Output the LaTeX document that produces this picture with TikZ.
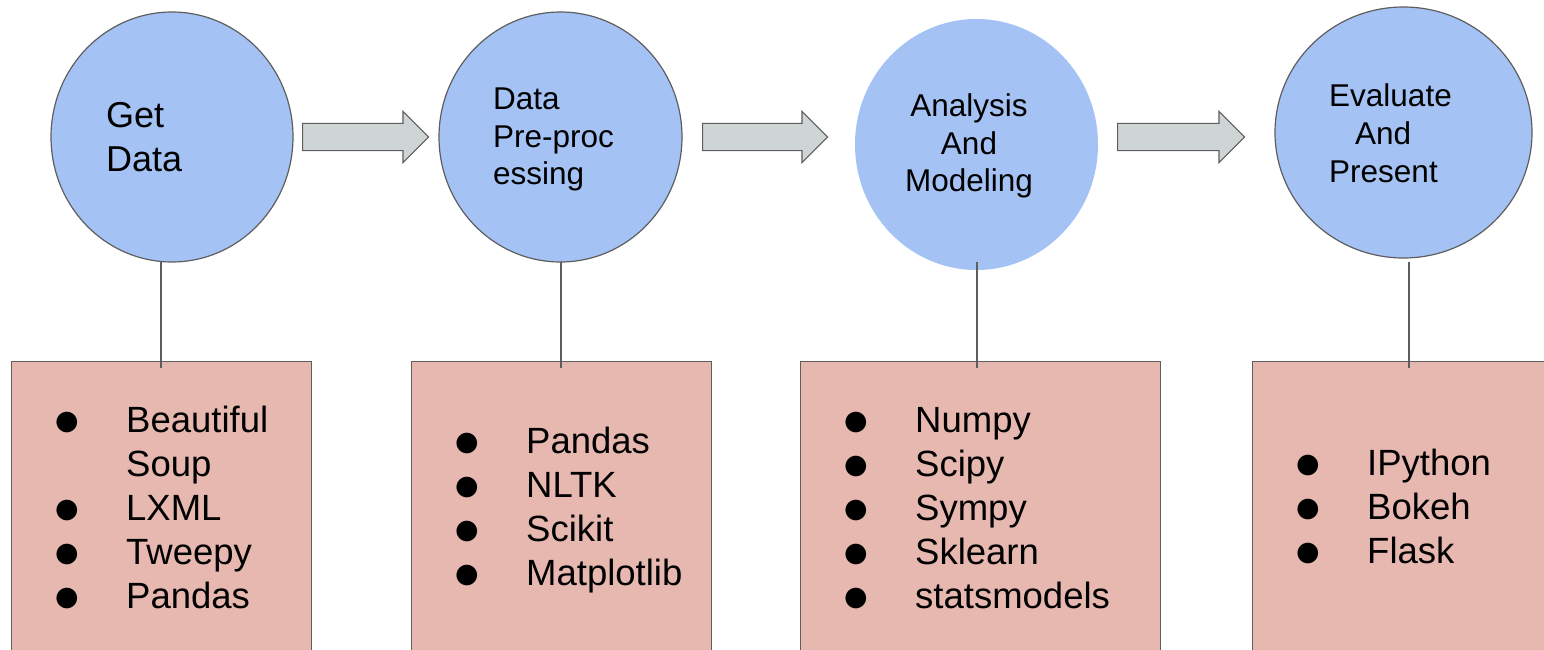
\documentclass[tikz,border=0pt]{standalone}
\usepackage{fontspec}
\setmainfont{Liberation Sans}
\newfontfamily\dotfont{DejaVu Sans}
\usetikzlibrary{shapes.geometric,shapes.arrows}

\definecolor{stageblue}{HTML}{A4C2F4}
\definecolor{toolpink}{HTML}{E6B8AF}
\definecolor{flowgray}{HTML}{CFD5D4}
\definecolor{edgegray}{HTML}{5E5E5E}

% multi-line label, baseline on its first line
\newcommand\stagelines[1]{\begin{tabular}[t]{@{}l@{}}#1\end{tabular}}
\newcommand\stagecentered[1]{\begin{tabular}[t]{@{}c@{}}#1\end{tabular}}
% bullet list inside a tool box
\newcommand\toolitem{\makebox[71pt][l]{\raisebox{3pt}{\dotfont\fontsize{27}{27}\selectfont ●}}}
\newcommand\toollist[1]{\begin{tabular}[t]{@{}l@{}l@{}}#1\end{tabular}}

\begin{document}
\begin{tikzpicture}[x=1pt,y=-1pt,
  stage/.style={ellipse, fill=stageblue, draw=edgegray, line width=1.2pt, inner sep=0pt},
  toolbox/.style={rectangle, fill=toolpink, draw=edgegray, line width=1.2pt,
    anchor=north west, inner sep=0pt, minimum height=340pt},
  flow/.style={single arrow, fill=flowgray, draw=edgegray, line width=1.2pt,
    single arrow head extend=12pt, inner xsep=0pt, inner ysep=13pt,
    text height=0pt, text depth=0pt, anchor=tail},
  link/.style={draw=edgegray, line width=1.2pt},
  stagetext/.style={inner sep=0pt, font=\fontsize{31.5}{37.5}\selectfont},
  tooltext/.style={inner sep=0pt, anchor=base west, font=\fontsize{36.5}{44}\selectfont},
]
\useasboundingbox (0,0) rectangle (1544,650);
\clip (0,0) rectangle (1544,650);

% pipeline stages
\node[stage, minimum width=242pt, minimum height=250pt] (c1) at (172,137) {};
\node[stage, minimum width=243pt, minimum height=250pt] (c2) at (560.5,137) {};
\node[stage, draw=none, minimum width=243pt, minimum height=251pt] (c3) at (976.5,144.5) {};
\node[stage, minimum width=257pt, minimum height=251pt] (c4) at (1403.5,132.5) {};

\node[stagetext, anchor=base west, font=\fontsize{36}{44}\selectfont] (t1) at (106,128) {\stagelines{Get\\Data}};
\node[stagetext, anchor=base west] (t2) at (493,110) {\stagelines{Data\\Pre-proc\\essing}};
\node[stagetext, anchor=base] (t3) at (969,117) {\stagecentered{Analysis\\And\\Modeling}};
\node[stagetext, anchor=base west] (t4) at (1329,107) {\stagelines{Evaluate\\\hspace*{26pt}And\\Present}};

% flow arrows between stages
\node[flow, minimum height=126pt, minimum width=50pt] (a1) at (302,137) {};
\node[flow, minimum height=125pt, minimum width=50pt] (a2) at (702,137) {};
\node[flow, minimum height=127pt, minimum width=50pt] (a3) at (1117,137) {};

% tool boxes
\node[toolbox, minimum width=300pt] (b1) at (11,361) {};
\node[toolbox, minimum width=300pt] (b2) at (411,361) {};
\node[toolbox, minimum width=360pt] (b3) at (800,361) {};
\node[toolbox, minimum width=400pt] (b4) at (1252,361) {};

\node[tooltext] (l1) at (55,432) {\toollist{\toolitem & Beautiful\\ & Soup\\ \toolitem & LXML\\ \toolitem & Tweepy\\ \toolitem & Pandas}};
\node[tooltext] (l2) at (455,453) {\toollist{\toolitem & Pandas\\ \toolitem & NLTK\\ \toolitem & Scikit\\ \toolitem & Matplotlib}};
\node[tooltext] (l3) at (844,432) {\toollist{\toolitem & Numpy\\ \toolitem & Scipy\\ \toolitem & Sympy\\ \toolitem & Sklearn\\ \toolitem & statsmodels}};
\node[tooltext] (l4) at (1296,475) {\toollist{\toolitem & IPython\\ \toolitem & Bokeh\\ \toolitem & Flask}};

% stage-to-tools connectors
\coordinate (k1) at (161,262);  \coordinate (j1) at (161,368);
\coordinate (k2) at (561,262);  \coordinate (j2) at (561,368);
\coordinate (k3) at (977,262);  \coordinate (j3) at (977,368);
\coordinate (k4) at (1409,262); \coordinate (j4) at (1409,368);
\draw[link] (k1) -- (j1);
\draw[link] (k2) -- (j2);
\draw[link] (k3) -- (j3);
\draw[link] (k4) -- (j4);
\end{tikzpicture}
\end{document}
